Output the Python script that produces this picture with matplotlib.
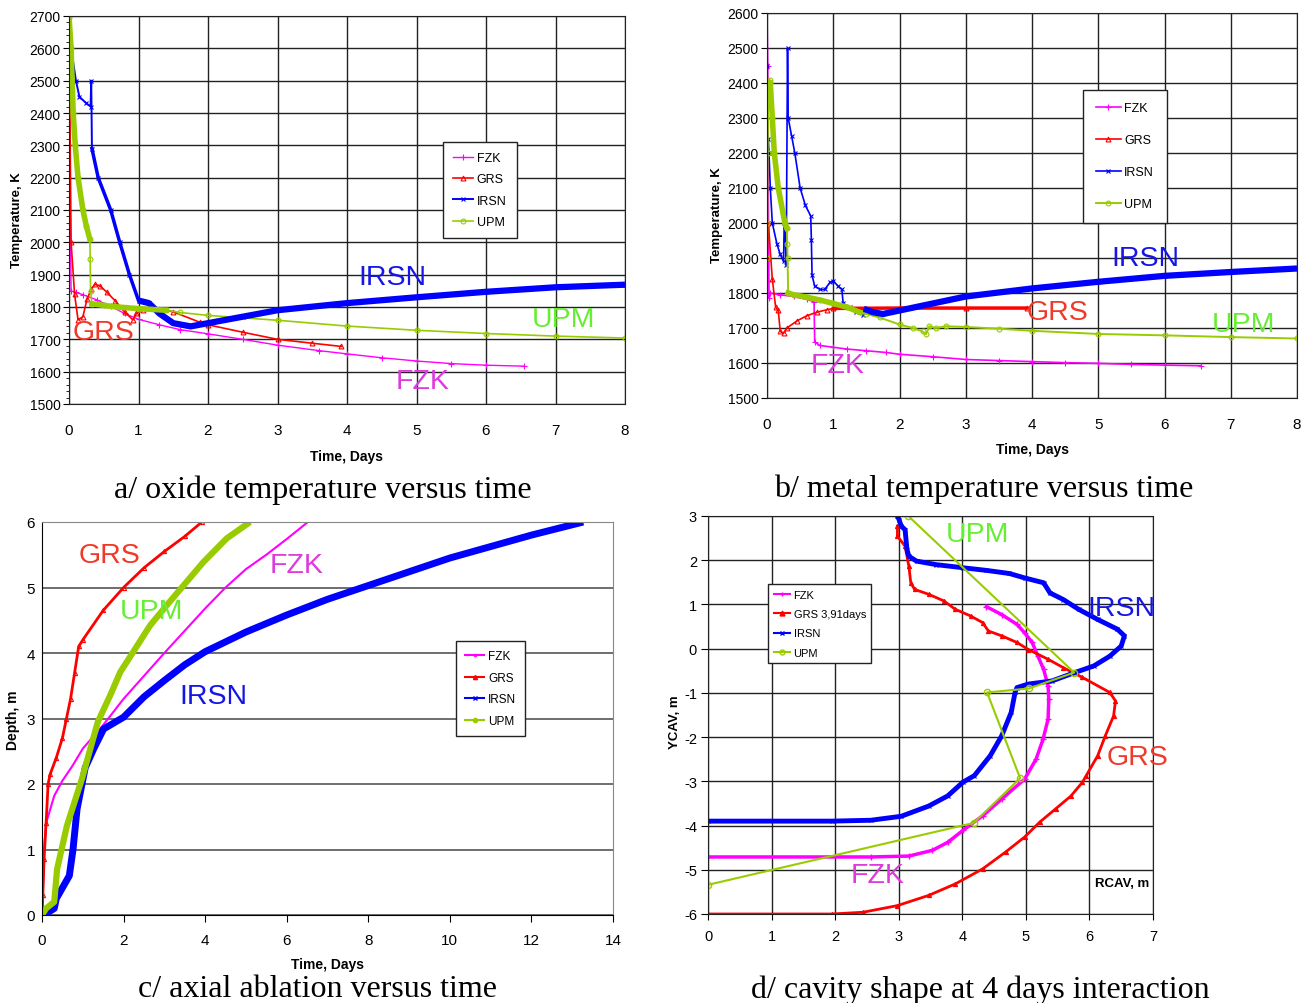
import matplotlib
matplotlib.use("Agg")
import matplotlib.pyplot as plt
from matplotlib.ticker import MultipleLocator

plt.rcParams['font.family'] = ['Liberation Sans', 'DejaVu Sans']
plt.rcParams['axes.unicode_minus'] = False

W, H = 1306, 1004

# colours
c_fzk = '#FF00FF'
c_grs = '#FF0000'
c_irsn = '#0000FF'
c_upm = '#99CC00'

# ---------- a/ oxide temperature ----------
a_fzk_t = [0, 0.01, 0.03, 0.1, 0.2, 0.4, 0.6, 0.8, 1.0, 1.3, 1.6, 2.0, 2.5, 3.0, 3.6, 4.0, 4.5, 5.0, 5.5, 6.0, 6.55]
a_fzk_T = [2700, 2300, 1850, 1845, 1838, 1822, 1802, 1780, 1762, 1745, 1730, 1717, 1700, 1682, 1665, 1655, 1643, 1633, 1625, 1620, 1617]

a_grs_t = [0, 0.03, 0.08, 0.13, 0.2, 0.26, 0.32, 0.37, 0.44, 0.54, 0.66, 0.8, 0.92, 0.97, 1.06, 1.3, 1.5, 1.88, 2.0, 2.5, 3.0, 3.5, 3.92]
a_grs_T = [2700, 2000, 1840, 1760, 1770, 1825, 1855, 1870, 1866, 1847, 1820, 1785, 1760, 1780, 1790, 1795, 1785, 1753, 1745, 1722, 1700, 1688, 1678]

a_irsn_t = [0, 0.03, 0.1, 0.15, 0.25, 0.31, 0.32, 0.33, 0.42, 0.6, 0.73, 0.87, 1.0, 1.15, 1.3, 1.5, 1.75, 2.0, 2.5, 3.0, 4.0, 5.0, 6.0, 7.0, 8.0]
a_irsn_T = [2700, 2600, 2500, 2450, 2430, 2420, 2500, 2290, 2200, 2100, 2000, 1900, 1820, 1812, 1780, 1750, 1740, 1750, 1770, 1790, 1812, 1830, 1847, 1861, 1869]

a_upm_t = [0, 0.03, 0.06, 0.09, 0.13, 0.2, 0.25, 0.3, 0.305, 0.31, 0.33, 0.5, 0.7, 1.0, 1.4, 1.6, 2.0, 3.0, 4.0, 5.0, 6.0, 7.0, 8.0]
a_upm_T = [2700, 2600, 2400, 2300, 2200, 2100, 2050, 2010, 1950, 1850, 1810, 1805, 1800, 1795, 1790, 1783, 1774, 1759, 1741, 1728, 1718, 1710, 1704]

# ---------- b/ metal temperature ----------
b_fzk_t = [0, 0.01, 0.02, 0.03, 0.05, 0.2, 0.4, 0.6, 0.71, 0.72, 0.8, 1.0, 1.2, 1.5, 1.8, 2.0, 2.5, 3.0, 3.5, 4.0, 4.5, 5.0, 5.5, 6.0, 6.55]
b_fzk_T = [2600, 2450, 2100, 1785, 1800, 1795, 1790, 1782, 1775, 1660, 1650, 1645, 1640, 1635, 1630, 1625, 1618, 1610, 1607, 1604, 1601, 1599, 1596, 1594, 1592]

b_grs_t = [0, 0.02, 0.08, 0.13, 0.17, 0.2, 0.25, 0.3, 0.45, 0.6, 0.75, 0.9, 1.0, 2.0, 3.0, 3.92]
b_grs_T = [1900, 2000, 1840, 1760, 1750, 1690, 1685, 1700, 1720, 1735, 1745, 1752, 1756, 1757, 1757, 1757]

b_irsn_t = [0, 0.01, 0.02, 0.03, 0.05, 0.08, 0.15, 0.2, 0.25, 0.26, 0.27, 0.29, 0.31, 0.32, 0.37, 0.42, 0.5, 0.58, 0.66,
            0.67, 0.68, 0.72, 0.8, 0.87, 0.95, 1.0, 1.07, 1.13, 1.15, 1.25, 1.35, 1.45, 1.46, 1.6, 1.75, 2.0, 2.5, 3.0,
            4.0, 5.0, 6.0, 7.0, 8.0]
b_irsn_T = [2450, 2200, 2240, 2200, 2100, 2000, 1940, 1910, 1890, 2000, 1990, 1880, 2500, 2300, 2250, 2200, 2100, 2050, 2020,
            1950, 1850, 1820, 1810, 1810, 1830, 1835, 1820, 1810, 1770, 1760, 1745, 1738, 1755, 1745, 1740, 1750, 1770, 1790,
            1813, 1832, 1849, 1860, 1870]

b_upm_t = [0, 0.005, 0.01, 0.02, 0.04, 0.05, 0.08, 0.11, 0.17, 0.27, 0.3, 0.305, 0.31, 0.32, 0.4, 0.6, 0.8, 1.0, 1.2, 1.4,
           1.5, 1.7, 2.0, 2.2, 2.35, 2.4, 2.45, 2.55, 2.7, 3.0, 3.5, 4.0, 5.0, 6.0, 7.0, 8.0]
b_upm_T = [1900, 2000, 2200, 2400, 2410, 2400, 2300, 2200, 2100, 2000, 1985, 1940, 1900, 1800, 1795, 1788, 1780, 1770, 1760, 1745,
           1740, 1730, 1710, 1700, 1690, 1682, 1705, 1700, 1705, 1703, 1698, 1692, 1683, 1679, 1674, 1670]

# ---------- c/ axial ablation ----------
c_grs_t = [0, 0.02, 0.05, 0.1, 0.15, 0.2, 0.35, 0.5, 0.6, 0.7, 0.8, 0.9, 1.0, 1.5, 2.0, 2.5, 3.0, 3.5, 3.92]
c_grs_d = [0, 0.3, 0.85, 1.4, 2.0, 2.15, 2.4, 2.7, 3.0, 3.3, 3.7, 4.1, 4.2, 4.65, 5.0, 5.3, 5.55, 5.78, 6.0]

c_upm_t = [0, 0.1, 0.3, 0.37, 0.61, 0.98, 1.37, 1.67, 1.92, 2.24, 2.65, 3.06, 3.51, 3.96, 4.53, 5.1]
c_upm_d = [0, 0.1, 0.2, 0.7, 1.36, 2.08, 2.95, 3.35, 3.71, 4.02, 4.42, 4.73, 5.06, 5.39, 5.75, 6.0]

c_fzk_t = [0, 0.02, 0.05, 0.1, 0.3, 0.5, 0.75, 1.0, 1.5, 2.0, 3.0, 4.0, 4.5, 5.0, 5.5, 6.0, 6.52]
c_fzk_d = [0, 0.3, 1.0, 1.4, 1.82, 2.05, 2.28, 2.54, 2.9, 3.3, 4.0, 4.68, 5.0, 5.28, 5.5, 5.74, 6.0]

c_irsn_t = [0, 0.1, 0.3, 0.35, 0.67, 0.76, 0.86, 1.06, 1.27, 1.51, 2.0, 2.5, 3.0, 3.5, 4.0, 5.0, 6.0, 7.0, 8.0, 10.0, 12.0, 13.27]
c_irsn_d = [0, 0.02, 0.1, 0.25, 0.6, 1.0, 1.62, 2.25, 2.54, 2.84, 3.02, 3.33, 3.58, 3.82, 4.02, 4.32, 4.58, 4.82, 5.03, 5.45, 5.8, 6.0]

# ---------- d/ cavity shape ----------
d_irsn_r = [2.98, 3.01, 3.04, 3.1, 3.13, 3.16, 3.28, 3.59, 4.01, 4.38, 4.74, 4.98, 5.28, 5.38, 5.59, 5.83, 6.13, 6.44, 6.55,
            6.5, 6.32, 6.07, 5.77, 5.41, 5.04, 4.86, 4.83, 4.77, 4.62, 4.44, 4.19, 4.01, 3.77, 3.47, 3.04, 2.56, 1.95, 0]
d_irsn_y = [3.0, 2.9, 2.77, 2.69, 2.24, 2.09, 1.98, 1.9, 1.83, 1.77, 1.7, 1.6, 1.49, 1.26, 1.11, 0.89, 0.66, 0.44, 0.29,
            0.06, -0.17, -0.39, -0.54, -0.73, -0.8, -0.88, -0.99, -1.44, -1.97, -2.42, -2.87, -3.02, -3.33, -3.56, -3.79,
            -3.88, -3.9, -3.9]

d_fzk_r = [4.38, 4.62, 4.86, 4.98, 5.1, 5.19, 5.28, 5.35, 5.36, 5.35, 5.27, 5.16, 4.98, 4.62, 4.32, 4.01, 3.77, 3.53, 3.16, 2.56, 0]
d_fzk_y = [0.95, 0.77, 0.55, 0.36, 0.14, -0.17, -0.47, -0.84, -1.14, -1.59, -2.05, -2.5, -2.95, -3.4, -3.78, -4.11, -4.38,
           -4.56, -4.69, -4.71, -4.71]

d_grs_r = [2.98, 2.98, 3.1, 3.16, 3.19, 3.25, 3.47, 3.71, 3.89, 4.13, 4.32, 4.41, 4.62, 4.86, 5.04, 5.35, 5.59, 5.89, 6.32,
           6.41, 6.38, 6.25, 6.13, 5.95, 5.89, 5.71, 5.47, 5.22, 4.98, 4.68, 4.32, 3.89, 3.47, 2.98, 2.44, 1.95, 0]
d_grs_y = [2.77, 2.54, 2.32, 1.86, 1.49, 1.34, 1.23, 1.08, 0.89, 0.74, 0.59, 0.4, 0.29, 0.14, -0.02, -0.24, -0.43, -0.65, -0.99,
           -1.18, -1.52, -1.97, -2.42, -2.87, -3.02, -3.33, -3.62, -3.92, -4.26, -4.6, -4.98, -5.32, -5.58, -5.81, -5.96, -6.0, -6.0]

d_upm_r = [3.15, 5.76, 5.05, 4.39, 4.91, 4.18, 0]
d_upm_y = [3.0, -0.54, -0.9, -0.99, -2.93, -3.94, -5.34]

names = ['FZK', 'GRS', 'IRSN', 'UPM']


def box(l, t, r, b):
    return [l / W, 1 - b / H, (r - l) / W, (b - t) / H]


def ftext(x, y, s, **kw):
    fig.text(x / W, 1 - y / H, s, ha='center', va='center', **kw)


def grid_black(ax):
    ax.grid(True, color='#222222', lw=1.0)
    ax.set_axisbelow(True)
    for sp in ax.spines.values():
        sp.set_color('#222222')


def add_legend(ax, handles, labels, l, t, fs, hl, spacing, bpad):
    ax.legend(handles, labels, loc='upper left', bbox_to_anchor=(l / W, 1 - t / H),
              bbox_transform=fig.transFigure, fontsize=fs, fancybox=False, edgecolor='#222222', framealpha=1,
              handlelength=hl, handletextpad=0.3, labelspacing=spacing, borderpad=bpad, borderaxespad=0)


mk = dict(ms=3.5, mew=0.8)
lab = dict(fontsize=20.5)
cap = dict(fontsize=23, family='Liberation Serif')

fig = plt.figure(figsize=(W / 100, H / 100), dpi=100)

# ===== panel a =====
ax = fig.add_axes(box(69, 17, 625, 405))
l1, = ax.plot(a_fzk_t, a_fzk_T, color=c_fzk, lw=1, marker='+', ms=4, mew=0.8)
l2, = ax.plot(a_grs_t, a_grs_T, color=c_grs, lw=1.2, marker='^', mfc='none', **mk)
l3, = ax.plot(a_irsn_t, a_irsn_T, color=c_irsn, lw=1.4, marker='x', **mk)
l4, = ax.plot(a_upm_t, a_upm_T, color=c_upm, lw=1.2, marker='o', mfc='none', **mk)
ax.plot(a_irsn_t[7:13], a_irsn_T[7:13], color=c_irsn, lw=2.5)
ax.plot(a_irsn_t[12:], a_irsn_T[12:], color=c_irsn, lw=4.5, solid_capstyle='butt')
ax.plot(a_upm_t[:8], a_upm_T[:8], color=c_upm, lw=4)
ax.plot(a_upm_t[10:15], a_upm_T[10:15], color=c_upm, lw=4)
ax.set_xlim(0, 8)
ax.set_ylim(1500, 2700)
ax.xaxis.set_major_locator(MultipleLocator(1))
ax.yaxis.set_major_locator(MultipleLocator(100))
ax.yaxis.set_minor_locator(MultipleLocator(20))
ax.tick_params(axis='y', which='minor', length=2, direction='out')
ax.tick_params(axis='x', labelsize=11, pad=14, length=0)
ax.tick_params(axis='y', labelsize=10, pad=2, length=4, direction='out')
grid_black(ax)
add_legend(ax, [l1, l2, l3, l4], names, 443, 143, 9, 1.6, 0.75, 0.8)
ftext(347, 457, 'Time, Days', fontsize=10, fontweight='bold')
ftext(17, 220, 'Temperature, K', fontsize=9.5, fontweight='bold', rotation=90)
ftext(392, 278, 'IRSN', color='#1515E6', **lab)
ftext(564, 320, 'UPM', color='#66EE33', **lab)
ftext(103, 333, 'GRS', color='#EE3A2A', **lab)
ftext(423, 382, 'FZK', color='#DD3ADD', **lab)
ftext(323, 490, 'a/ oxide temperature versus time', **cap)

# ===== panel b =====
ax = fig.add_axes(box(767, 14, 1297, 399))
l1, = ax.plot(b_fzk_t, b_fzk_T, color=c_fzk, lw=1.2, marker='+', ms=4, mew=0.8)
l2, = ax.plot(b_grs_t, b_grs_T, color=c_grs, lw=1.2, marker='^', mfc='none', **mk)
l3, = ax.plot(b_irsn_t, b_irsn_T, color=c_irsn, lw=1.2, marker='x', **mk)
l4, = ax.plot(b_upm_t, b_upm_T, color=c_upm, lw=1.4, marker='o', mfc='none', **mk)
ax.plot(b_grs_t[12:], b_grs_T[12:], color=c_grs, lw=2.5)
ax.plot(b_irsn_t[32:], b_irsn_T[32:], color=c_irsn, lw=4.5, solid_capstyle='butt')
ax.plot(b_upm_t[5:11], b_upm_T[5:11], color=c_upm, lw=4)
ax.plot(b_upm_t[13:20], b_upm_T[13:20], color=c_upm, lw=4)
ax.set_xlim(0, 8)
ax.set_ylim(1500, 2600)
ax.xaxis.set_major_locator(MultipleLocator(1))
ax.yaxis.set_major_locator(MultipleLocator(100))
ax.tick_params(axis='x', labelsize=11, pad=14, length=0)
ax.tick_params(axis='y', labelsize=10, pad=2, length=4, direction='out')
grid_black(ax)
add_legend(ax, [l1, l2, l3, l4], names, 1083, 91, 9, 2.0, 1.6, 1.0)
ftext(1032, 450, 'Time, Days', fontsize=10, fontweight='bold')
ftext(717, 215, 'Temperature, K', fontsize=9.5, fontweight='bold', rotation=90)
ftext(1145, 259, 'IRSN', color='#1515E6', **lab)
ftext(1057, 313, 'GRS', color='#EE3A2A', **lab)
ftext(1243, 325, 'UPM', color='#66EE33', **lab)
ftext(838, 366, 'FZK', color='#DD3ADD', **lab)
ftext(984, 489, 'b/ metal temperature versus time', **cap)

# ===== panel c =====
ax = fig.add_axes(box(42, 523, 613, 916))
ax.plot(c_fzk_t, c_fzk_d, color=c_fzk, lw=1.5)
ax.plot(c_grs_t, c_grs_d, color=c_grs, lw=2, marker='^', ms=3, mfc='none', mew=0.8)
ax.plot(c_irsn_t, c_irsn_d, color=c_irsn, lw=5, solid_capstyle='butt')
ax.plot(c_upm_t, c_upm_d, color=c_upm, lw=4.5, solid_capstyle='butt')
ax.set_xlim(0, 14)
ax.set_ylim(0, 6)
ax.xaxis.set_major_locator(MultipleLocator(2))
ax.yaxis.set_major_locator(MultipleLocator(1))
ax.grid(True, axis='y', color='#555555', lw=1.2)
ax.set_axisbelow(True)
ax.spines['top'].set_color('#888888')
ax.spines['right'].set_color('#888888')
ax.tick_params(axis='x', labelsize=11, pad=8, length=5, direction='out')
ax.tick_params(axis='y', labelsize=11, pad=5, length=0)
h = [plt.Line2D([], [], color=c, lw=1.5, marker=m, ms=3, mfc=c) for c, m in
     [(c_fzk, '.'), (c_grs, '^'), (c_irsn, 'x'), (c_upm, 'o')]]
add_legend(ax, h, names, 456, 642, 8.5, 1.6, 0.8, 0.8)
ftext(328, 965, 'Time, Days', fontsize=10, fontweight='bold')
ftext(13, 720, 'Depth, m', fontsize=10, fontweight='bold', rotation=90)
ftext(110, 556, 'GRS', color='#EE3A2A', **lab)
ftext(152, 612, 'UPM', color='#66EE33', **lab)
ftext(297, 566, 'FZK', color='#DD3ADD', **lab)
ftext(213, 697, 'IRSN', color='#1515E6', **lab)
ftext(318, 990, 'c/ axial ablation versus time', **cap)

# ===== panel d =====
ax = fig.add_axes(box(708, 517, 1153, 915))
ax.plot(d_fzk_r, d_fzk_y, color=c_fzk, lw=2.5, marker='+', ms=4, mew=1)
ax.plot(d_grs_r, d_grs_y, color=c_grs, lw=2, marker='^', ms=3, mew=0.8)
ax.plot(d_irsn_r, d_irsn_y, color=c_irsn, lw=3.5, marker='x', ms=3, mew=0.8)
ax.plot(d_upm_r, d_upm_y, color=c_upm, lw=1.5, marker='o', ms=4.5, mfc='none', mew=1)
ax.set_xlim(0, 7)
ax.set_ylim(-6, 3)
ax.xaxis.set_major_locator(MultipleLocator(1))
ax.yaxis.set_major_locator(MultipleLocator(1))
ax.tick_params(axis='x', labelsize=10.5, pad=7, length=4, direction='out')
ax.tick_params(axis='y', labelsize=10.5, pad=3, length=5, direction='out')
grid_black(ax)
h = [plt.Line2D([], [], color=c, lw=1.5, marker=m, ms=3.5, mfc=f) for c, m, f in
     [(c_fzk, '+', c_fzk), (c_grs, '^', c_grs), (c_irsn, 'x', c_irsn), (c_upm, 'o', 'none')]]
add_legend(ax, h, ['FZK', 'GRS 3,91days', 'IRSN', 'UPM'], 768, 585, 8, 1.5, 0.85, 0.5)
ftext(1122, 884, 'RCAV, m', fontsize=9.5, fontweight='bold')
ftext(675, 722, 'YCAV, m', fontsize=9.5, fontweight='bold', rotation=90)
ftext(977, 535, 'UPM', color='#66EE33', **lab)
ftext(1121, 609, 'IRSN', color='#1515E6', **lab)
ftext(1137, 758, 'GRS', color='#EE3A2A', **lab)
ftext(878, 876, 'FZK', color='#DD3ADD', **lab)
ftext(980, 990, 'd/ cavity shape at 4 days interaction', **cap)

fig.savefig('out.png', dpi=100)
